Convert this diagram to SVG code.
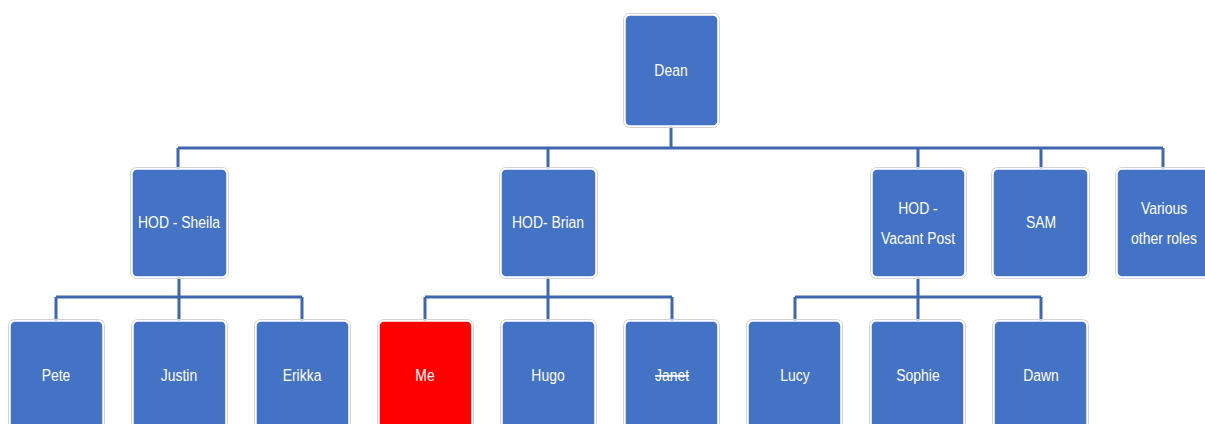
<svg xmlns="http://www.w3.org/2000/svg" width="1205" height="424" viewBox="0 0 1205 424">
<style>
.box{fill:#4472C4;stroke:#ffffff;stroke-width:1.5}
.sh{fill:none;stroke:#d4d4d4;stroke-width:1}
.red{fill:#FF0000}
.t{font-family:"Liberation Sans",Arial,sans-serif;font-size:17px;fill:#ffffff;text-anchor:middle;dominant-baseline:central;transform-box:fill-box;transform-origin:center;transform:scaleX(0.82)}
.c{fill:none;stroke:#3F66AE;stroke-width:3}
</style>
<rect width="1205" height="424" fill="#ffffff"/>
<g id="connectors">
<path class="c" d="M671,126V148M178,148H1163M178,148V169M548,148V169M918,148V169M1041,148V169M1163,148V169"/>
<path class="c" d="M179,277V321M56,297H302M56,297V321M302,297V321"/>
<path class="c" d="M548,277V321M425,297H672M425,297V321M672,297V321"/>
<path class="c" d="M918,277V321M795,297H1041M795,297V321M1041,297V321"/>
</g>
<g id="dean"><rect class="sh" x="623.5" y="13.5" width="96" height="114" rx="6"/><rect class="box" x="625" y="15" width="93" height="111" rx="5"/><text class="t" x="671" y="70">Dean</text></g>
<g id="hod-sheila"><rect class="sh" x="130.5" y="167.5" width="98" height="111" rx="6"/><rect class="box" x="132" y="169" width="95" height="108" rx="5"/><text class="t" x="179" y="222">HOD - Sheila</text></g>
<g id="hod-brian"><rect class="sh" x="499.5" y="167.5" width="98" height="111" rx="6"/><rect class="box" x="501" y="169" width="95" height="108" rx="5"/><text class="t" x="548" y="222">HOD- Brian</text></g>
<g id="hod-vacant"><rect class="sh" x="870.5" y="167.5" width="96" height="111" rx="6"/><rect class="box" x="872" y="169" width="93" height="108" rx="5"/><text class="t" x="918" y="208">HOD -</text><text class="t" x="918" y="238">Vacant Post</text></g>
<g id="sam"><rect class="sh" x="991.5" y="167.5" width="98" height="111" rx="6"/><rect class="box" x="993" y="169" width="95" height="108" rx="5"/><text class="t" x="1041" y="222">SAM</text></g>
<g id="various"><rect class="sh" x="1115.5" y="167.5" width="98" height="111" rx="6"/><rect class="box" x="1117" y="169" width="95" height="108" rx="5"/><text class="t" x="1164" y="208">Various</text><text class="t" x="1164" y="238">other roles</text></g>
<g id="pete"><rect class="sh" x="8.5" y="319.5" width="96" height="112" rx="6"/><rect class="box" x="10" y="321" width="93" height="109" rx="5"/><text class="t" x="56" y="375">Pete</text></g>
<g id="justin"><rect class="sh" x="131.5" y="319.5" width="96" height="112" rx="6"/><rect class="box" x="133" y="321" width="93" height="109" rx="5"/><text class="t" x="179" y="375">Justin</text></g>
<g id="erikka"><rect class="sh" x="254.5" y="319.5" width="96" height="112" rx="6"/><rect class="box" x="256" y="321" width="93" height="109" rx="5"/><text class="t" x="302" y="375">Erikka</text></g>
<g id="me"><rect class="sh" x="377.5" y="319.5" width="96" height="112" rx="6"/><rect class="box red" x="379" y="321" width="93" height="109" rx="5"/><text class="t" x="425" y="375">Me</text></g>
<g id="hugo"><rect class="sh" x="500.5" y="319.5" width="96" height="112" rx="6"/><rect class="box" x="502" y="321" width="93" height="109" rx="5"/><text class="t" x="548" y="375">Hugo</text></g>
<g id="janet"><rect class="sh" x="623.5" y="319.5" width="96" height="112" rx="6"/><rect class="box" x="625" y="321" width="93" height="109" rx="5"/><text class="t" x="672" y="375" text-decoration="line-through">Janet</text></g>
<g id="lucy"><rect class="sh" x="746.5" y="319.5" width="96" height="112" rx="6"/><rect class="box" x="748" y="321" width="93" height="109" rx="5"/><text class="t" x="795" y="375">Lucy</text></g>
<g id="sophie"><rect class="sh" x="869.5" y="319.5" width="96" height="112" rx="6"/><rect class="box" x="871" y="321" width="93" height="109" rx="5"/><text class="t" x="918" y="375">Sophie</text></g>
<g id="dawn"><rect class="sh" x="992.5" y="319.5" width="96" height="112" rx="6"/><rect class="box" x="994" y="321" width="93" height="109" rx="5"/><text class="t" x="1041" y="375">Dawn</text></g>
</svg>
